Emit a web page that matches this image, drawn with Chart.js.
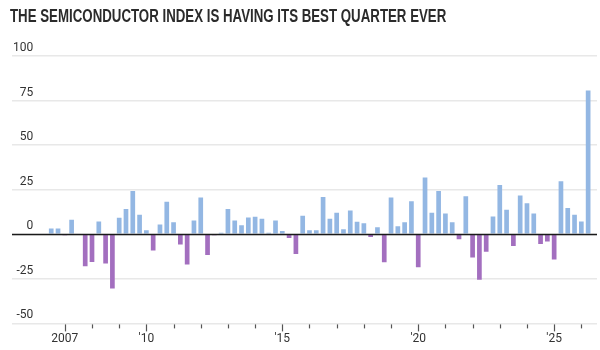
<!DOCTYPE html>
<html lang="en">
<head>
<meta charset="UTF-8">
<title>Semiconductor index quarterly change</title>
<script src="https://cdn.jsdelivr.net/npm/chart.js"></script>
<style>
    body { margin:0; background:#fff; }
    #wrap { position:relative; width:600px; height:350px; }
    #title {
        position:absolute; left:10px; top:6px; margin:0;
        font-family:"Liberation Sans", Arial, sans-serif;
        font-weight:bold; font-size:18px; color:#2b2b2b;
        white-space:nowrap; transform-origin:left top;
    }
</style>
</head>
<body>
<div id="wrap">
    <div id="title">THE SEMICONDUCTOR INDEX IS HAVING ITS BEST QUARTER EVER</div>
    <canvas id="myChart" width="600" height="350"></canvas>
</div>
<script>
    // quarters shown, first one is 2006 Q3
    const quarters = [];
    for (let y = 2006; y <= 2026; y++) {
        for (let q = 1; q <= 4; q++) {
            if ((y === 2006 && q < 3) || (y === 2026 && q > 2)) continue;
            quarters.push(y + " Q" + q);
        }
    }

    // quarterly % change
    const changes = [
        3.2, 3.2, -0.6, 8.1, 0, -18, -15.5, 7.2, -16.4, -30.4,
        9.2, 14.2, 24.3, 10.9, 2.3, -9.1, 5.5, 18.3, 6.8, -5.7,
        -17, 7.7, 20.6, -11.7, -0.6, 0.9, 14.2, 7.7, 5.1, 9.4,
        9.8, 8.7, 0.9, 7.7, 1.9, -2.1, -11.1, 10.4, 2.3, 2.3,
        20.9, 8.7, 12.1, 2.8, 13.4, 7.0, 6.2, -1.5, 4.0, -15.7,
        20.6, 4.5, 6.8, 18.5, -18.5, 31.9, 12.1, 24.3, 11.7, 6.8,
        -2.8, 21.3, -13, -25.5, -9.8, 10, 27.7, 13.7, -6.6, 21.7,
        17.4, 11.6, -5.5, -4, -14.2, 29.7, 14.8, 11, 7.2, 80.7
    ];

    const tickYears = [];
    for (let y = 2007; y <= 2026; y++) tickYears.push(y);
    const labelYears = [2007, 2010, 2015, 2020, 2025];
    const labelTexts = ["2007", "'10", "'15", "'20", "'25"];
    const yTicks = [-50, -25, 0, 25, 50, 75, 100];

    const UP = '#93b7e3';
    const DOWN = '#a36fbf';

    // squeeze the title into the narrow width of the original headline
    const titleEl = document.querySelector('#title');
    titleEl.style.transform = 'scaleX(' + (436 / titleEl.offsetWidth) + ')';

    // quarter label -> position on a year axis
    const points = quarters.map((lbl, i) => {
        const y = parseInt(lbl.slice(0, 4));
        const q = parseInt(lbl.slice(6));
        return { x: y + (q - 1) / 4, y: changes[i] };
    });

    // zero line on top of the bars + year ticks (labelled years get longer ones)
    const extras = {
        id: 'extras',
        afterDatasetsDraw(chart) {
            const { ctx, chartArea, scales } = chart;
            const y0 = Math.round(scales.y.getPixelForValue(0)) + 0.5;
            ctx.save();
            ctx.strokeStyle = '#1a1a1a';
            ctx.lineWidth = 1.3;
            ctx.beginPath();
            ctx.moveTo(chartArea.left, y0);
            ctx.lineTo(chartArea.right, y0);
            ctx.stroke();

            ctx.strokeStyle = '#555';
            ctx.lineWidth = 1.2;
            const yb = chartArea.bottom + 1;
            tickYears.forEach(yr => {
                const x = Math.round(scales.x.getPixelForValue(yr)) + 0.5;
                const len = labelYears.includes(yr) ? 7 : 4;
                ctx.beginPath();
                ctx.moveTo(x, yb);
                ctx.lineTo(x, yb + len);
                ctx.stroke();
            });
            ctx.restore();
        }
    };

    const ctx = document.querySelector('#myChart');
    const myChart = new Chart(ctx, {
        type: 'bar',
        data: {
            datasets: [{
                label: 'Quarterly change',
                data: points,
                backgroundColor: c => (c.raw && c.raw.y < 0) ? DOWN : UP,
                borderWidth: 0,
                barPercentage: 0.69,
                categoryPercentage: 1
            }]
        },
        options: {
            responsive: false,
            animation: false,
            layout: { padding: { left: 10, right: 3, top: 56, bottom: 1 } },
            plugins: { legend: { display: false }, tooltip: { enabled: false } },
            scales: {
                x: {
                    type: 'linear',
                    offset: false,
                    min: 2005.057,
                    max: 2026.576,
                    afterBuildTicks: s => { s.ticks = tickYears.map(v => ({ value: v })); },
                    grid: { offset: false, drawOnChartArea: false, tickLength: 5, tickColor: 'rgba(0,0,0,0)' },
                    border: { display: false },
                    ticks: {
                        autoSkip: false, maxRotation: 0, padding: 5.5,
                        color: '#333',
                        font: { family: 'Roboto', size: 12, lineHeight: 0.8 },
                        callback: v => {
                            const k = labelYears.indexOf(v);
                            return k >= 0 ? labelTexts[k] : '';
                        }
                    }
                },
                y: {
                    min: -50,
                    max: 100,
                    afterBuildTicks: s => { s.ticks = yTicks.map(v => ({ value: v })); },
                    grid: { color: '#e8e8e8', lineWidth: 1.5, drawTicks: false },
                    border: { display: false },
                    ticks: {
                        mirror: true, crossAlign: 'far', padding: 1, labelOffset: -8,
                        color: '#333',
                        font: { family: 'Roboto', size: 12 }
                    }
                }
            }
        },
        plugins: [extras]
    });
</script>
</body>
</html>
